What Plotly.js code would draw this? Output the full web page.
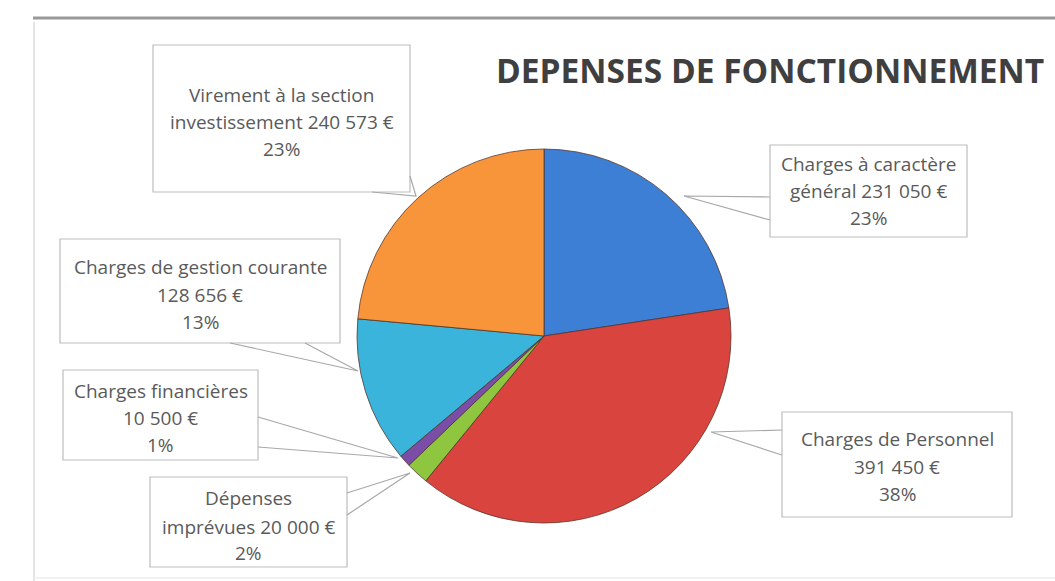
<!DOCTYPE html>
<html>
<head>
<meta charset="utf-8">
<script src="https://cdn.plot.ly/plotly-3.0.1.min.js"></script>
<style>html,body{margin:0;padding:0;background:#fff;}#chart{width:1055px;height:581px;}</style>
</head>
<body>
<div id="chart"></div>
<script>
// ---- data ----
const categories = ["Charges à caractère général", "Charges de Personnel", "Dépenses imprévues", "Charges financières", "Charges de gestion courante", "Virement à la section investissement"];
const values = [231050, 391450, 20000, 10500, 128656, 240573];
const percentLabels = ["23%", "38%", "2%", "1%", "13%", "23%"];
// how each category name is split over the callout's first two lines
const nameLine1 = ["Charges à caractère", "Charges de Personnel", "Dépenses", "Charges financières", "Charges de gestion courante", "Virement à la section"];
const nameLine2 = ["général", "", "imprévues", "", "", "investissement"];
const colors = ["#3c7fd4", "#d9453e", "#8ec63f", "#7a4ea6", "#3ab4da", "#f8953a"];
const chartTitle = "DEPENSES DE FONCTIONNEMENT";

// ---- layout helpers ----
const W = 1055, H = 581;
const px = x => x / W;
const py = y => 1 - y / H;
function fmt(v){ return String(v).replace(/\B(?=(\d{3})+(?!\d))/g, " "); }

// callout boxes: [x0, y0, x1, y1] in pixels, line y positions, wedge tip and base
const boxes = [
  {b:[770,145,967,237], lines:[164,191,218], base:[[770,197],[770,220]], tip:[684,196]},
  {b:[782,412,1012,517], lines:[439,467,494], base:[[782,430],[782,455]], tip:[711,432]},
  {b:[150,477,347,567], lines:[498,527,553], base:[[347,493],[347,515]], tip:[410,473]},
  {b:[63,370,258,460], lines:[391,418,445], base:[[258,417],[258,447]], tip:[398,458]},
  {b:[60,239,340,343], lines:[267,295,322], base:[[230,343],[305,343]], tip:[358,371]},
  {b:[153,45,410,192], lines:[95,122,149], base:[[372,192],[410,176]], tip:[416,196]}
];

const shapes = [];
const annotations = [];
// frame lines
shapes.push({type:"line", xref:"paper", yref:"paper", x0:px(33), x1:px(1055), y0:py(18), y1:py(18), line:{color:"#9a9a9a", width:3}});
shapes.push({type:"line", xref:"paper", yref:"paper", x0:px(34), x1:px(34), y0:py(22), y1:py(581), line:{color:"#dcdcdc", width:1.5}});
shapes.push({type:"line", xref:"paper", yref:"paper", x0:px(34), x1:px(1055), y0:py(578), y1:py(578), line:{color:"#ececec", width:1.5}});

categories.forEach((c, i) => {
  const bx = boxes[i];
  const [x0,y0,x1,y1] = bx.b;
  shapes.push({type:"rect", xref:"paper", yref:"paper", x0:px(x0), x1:px(x1), y0:py(y1), y1:py(y0),
    line:{color:"#bdbdbd", width:1.2}, fillcolor:"rgba(255,255,255,1)", layer:"above"});
  const path = `M ${px(bx.base[0][0])},${py(bx.base[0][1])} L ${px(bx.tip[0])},${py(bx.tip[1])} L ${px(bx.base[1][0])},${py(bx.base[1][1])}`;
  shapes.push({type:"path", xref:"paper", yref:"paper", path:path, line:{color:"#a8a8a8", width:1.2}, layer:"above"});
  const v = fmt(values[i]) + " €";
  let l1, l2;
  if (nameLine2[i]) { l1 = nameLine1[i]; l2 = nameLine2[i] + " " + v; }
  else { l1 = nameLine1[i]; l2 = v; }
  const texts = [l1, l2, percentLabels[i]];
  const cx = (x0 + x1) / 2;
  texts.forEach((t, k) => {
    annotations.push({xref:"paper", yref:"paper", x:px(cx), y:py(bx.lines[k]), text:t, showarrow:false,
      xanchor:"center", yanchor:"middle", font:{family:"Open Sans, sans-serif", size:19, color:"#5a5a5a"}});
  });
});

annotations.push({xref:"paper", yref:"paper", x:px(770), y:py(70), text:"<b>" + chartTitle + "</b>", showarrow:false,
  xanchor:"center", yanchor:"middle", font:{family:"Open Sans, sans-serif", size:33.5, color:"#3f3f3f"}});

const trace = {
  type:"pie",
  labels:categories,
  values:values,
  sort:false,
  direction:"clockwise",
  rotation:0,
  textinfo:"none",
  hoverinfo:"skip",
  marker:{colors:colors, line:{color:"rgba(80,50,40,0.75)", width:1}},
  domain:{x:[px(357), px(731)], y:[py(523), py(149)]},
  showlegend:false
};

const layout = {
  width:W, height:H,
  margin:{l:0, r:0, t:0, b:0},
  paper_bgcolor:"#ffffff",
  plot_bgcolor:"#ffffff",
  showlegend:false,
  shapes:shapes,
  annotations:annotations
};

Plotly.newPlot("chart", [trace], layout, {displayModeBar:false, staticPlot:true});
</script>
</body>
</html>
